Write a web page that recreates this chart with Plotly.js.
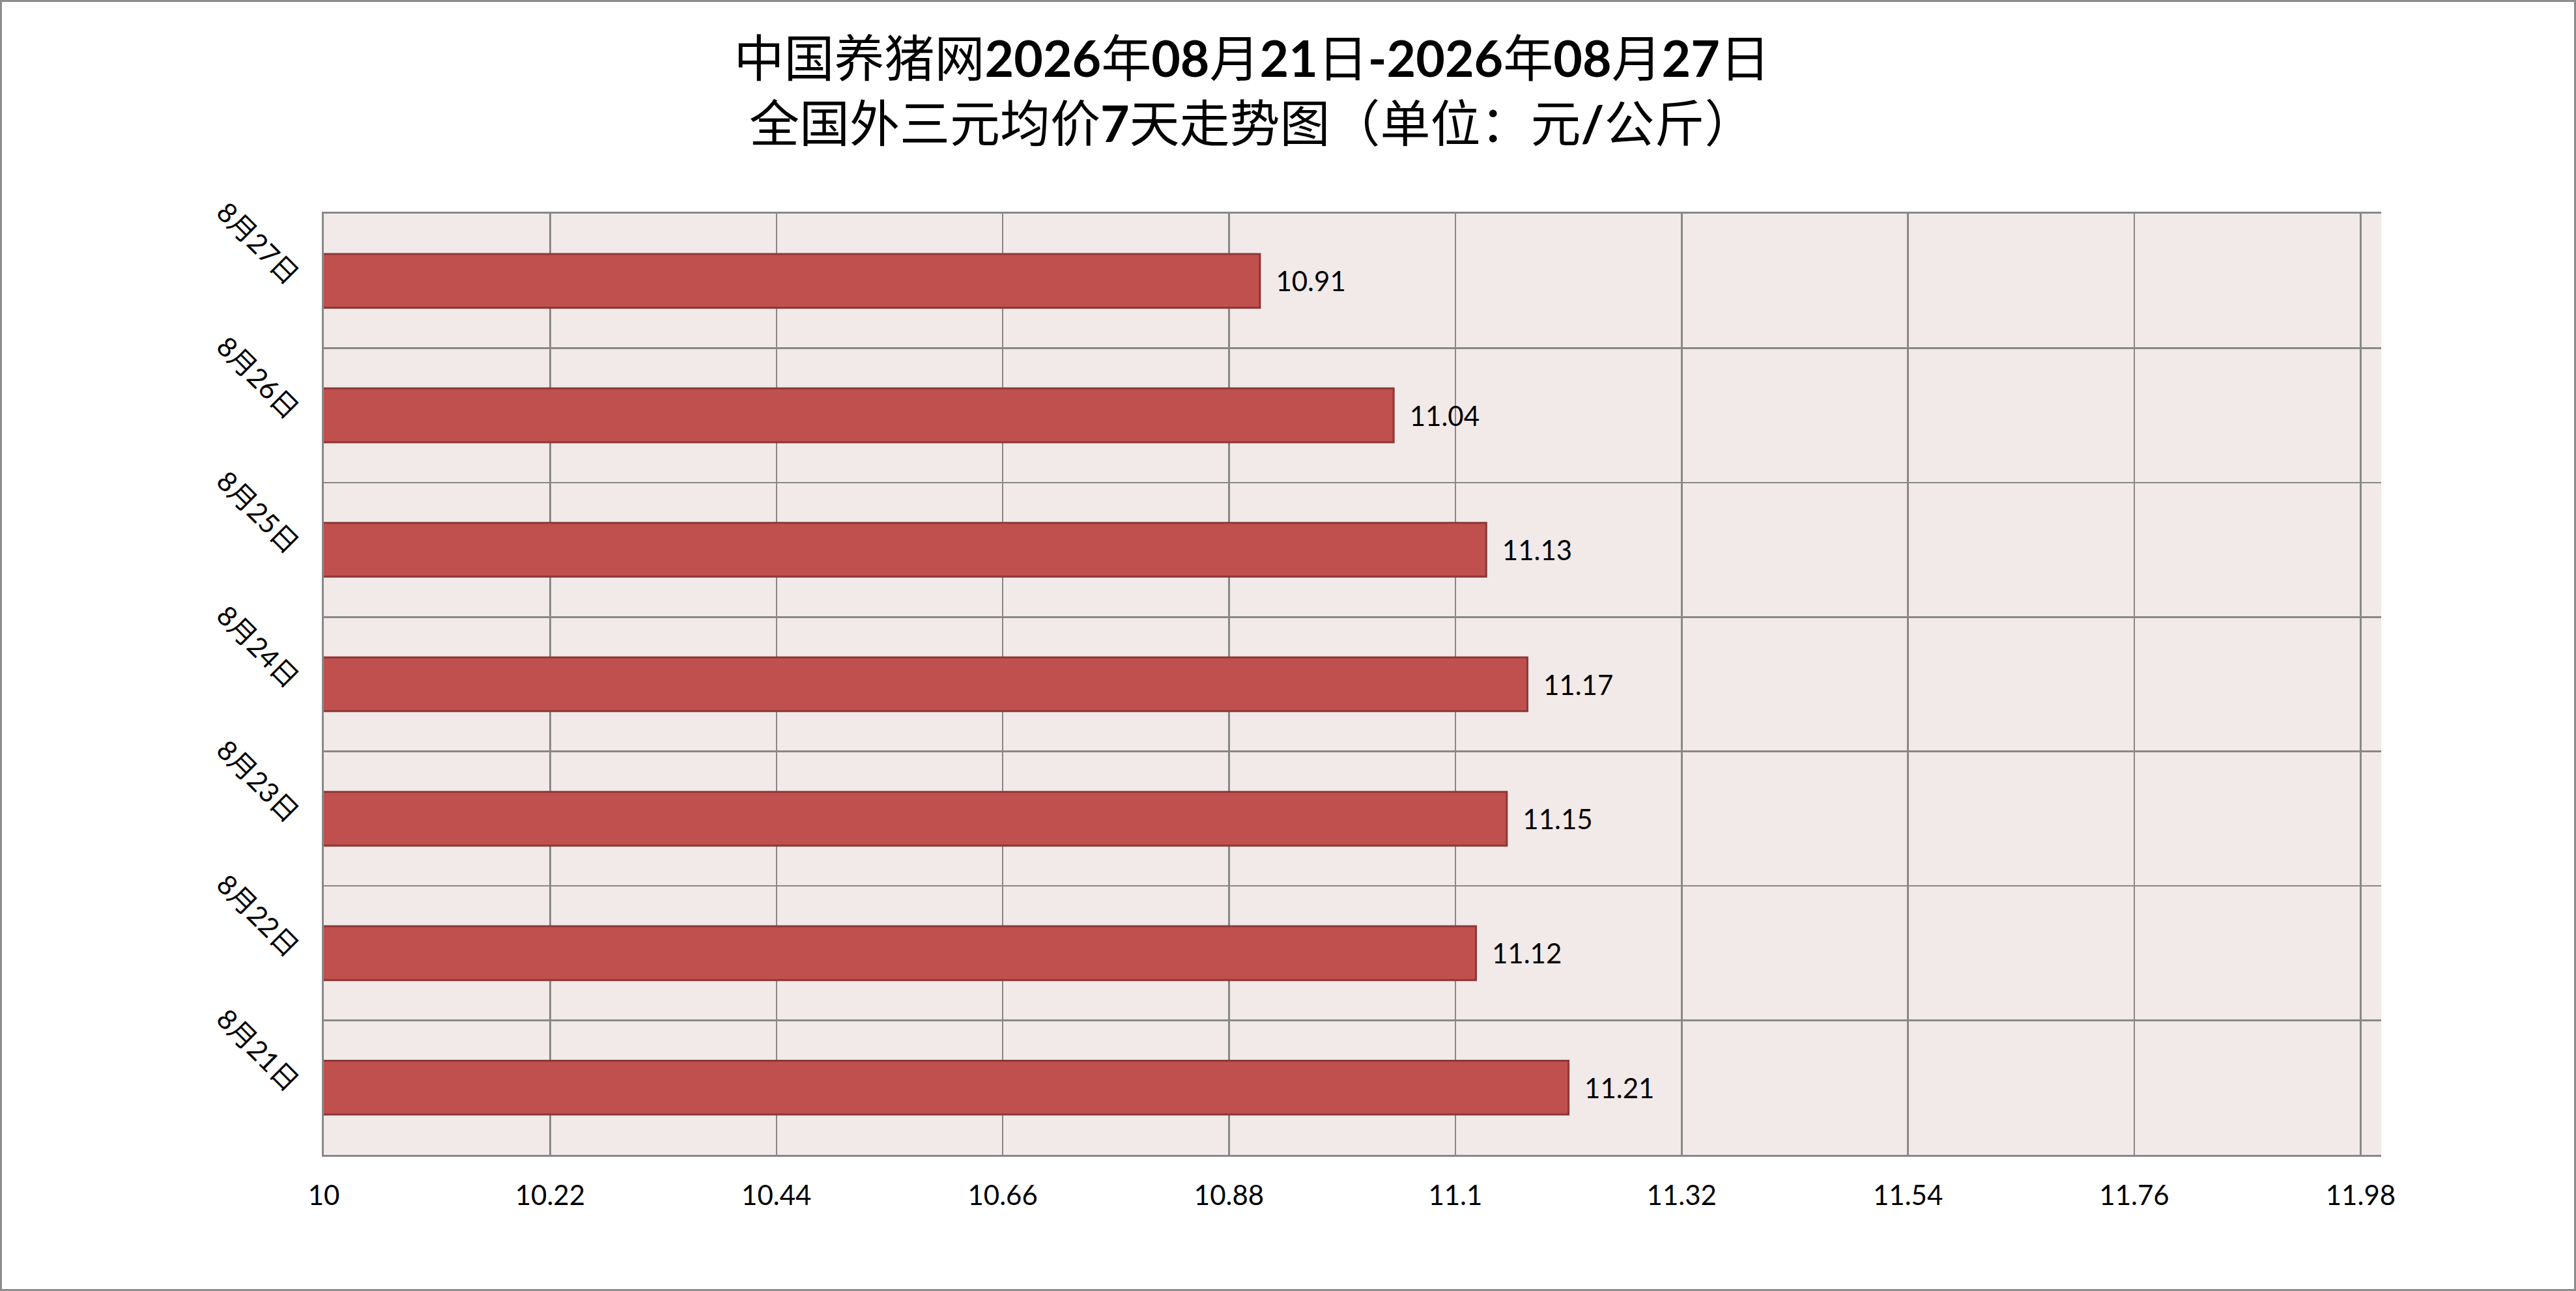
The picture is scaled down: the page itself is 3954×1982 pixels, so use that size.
<!DOCTYPE html>
<html>
<head>
<meta charset="utf-8">
<script src="https://cdn.plot.ly/plotly-3.0.1.min.js"></script>
<style>
  html, body { margin: 0; padding: 0; background: #fff; }
  #chart { width: 3954px; height: 1982px; box-sizing: border-box; border: 3px solid #8c8c8c; }
</style>
</head>
<body>
<div id="chart"></div>
<script>
// 全国外三元均价, 元/公斤
var days = ['8月21日', '8月22日', '8月23日', '8月24日', '8月25日', '8月26日', '8月27日'];
var prices = [11.21, 11.12, 11.15, 11.17, 11.13, 11.04, 10.91];

var titleText = '中国养猪网<b>2026</b>年<b>08</b>月<b>21</b>日<b>-2026</b>年<b>08</b>月<b>27</b>日<br>' +
  '全国外三元均价<b>7</b>天走势图（单位：元<b>/</b>公斤）';

var fontFam = 'Lato, "Noto Sans CJK SC", sans-serif';

var trace = {
  type: 'bar',
  orientation: 'h',
  x: prices,
  y: days,
  marker: {color: '#C0504D', line: {color: '#8C3836', width: 3}},
  text: prices.map(function (v) { return '\u00a0\u00a0' + v.toFixed(2); }),
  textposition: 'outside',
  textfont: {family: fontFam, size: 42, color: '#000'},
  cliponaxis: false,
  hoverinfo: 'none'
};

var layout = {
  width: 3948,
  height: 1976,
  margin: {l: 494, r: 296, t: 325, b: 206},
  paper_bgcolor: '#ffffff',
  plot_bgcolor: '#F2E9E9',
  bargap: 0.6,
  showlegend: false,
  title: {
    text: titleText,
    font: {family: fontFam, size: 77, color: '#000'},
    x: 0.486, xanchor: 'center',
    y: 0.942, yanchor: 'middle',
    xref: 'container', yref: 'container'
  },
  xaxis: {
    range: [10, 12],
    tick0: 10,
    dtick: 0.22,
    showgrid: true,
    gridcolor: '#888888',
    gridwidth: 2.5,
    zeroline: false,
    showline: true,
    mirror: true,
    linecolor: '#888888',
    linewidth: 3,
    ticks: '',
    ticklabelstandoff: 24,
    tickfont: {family: fontFam, size: 42, color: '#000'}
  },
  yaxis: {
    type: 'category',
    tickson: 'boundaries',
    showgrid: true,
    gridcolor: '#888888',
    gridwidth: 2.5,
    zeroline: false,
    showline: true,
    linecolor: '#888888',
    linewidth: 3,
    ticks: '',
    tickangle: 45,
    ticklabelstandoff: 30,
    tickfont: {family: fontFam, size: 42, color: '#000'}
  }
};

Plotly.newPlot('chart', [trace], layout, {staticPlot: true});
</script>
</body>
</html>
